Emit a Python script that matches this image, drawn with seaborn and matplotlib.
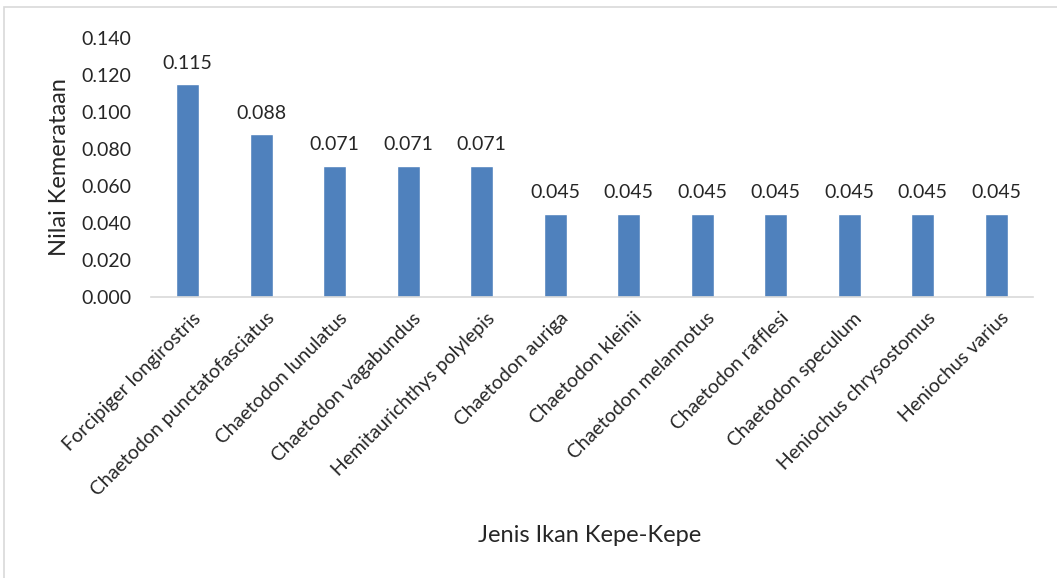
import matplotlib
matplotlib.use("Agg")
import matplotlib.pyplot as plt
import matplotlib.transforms as mtransforms
import seaborn as sns
import pandas as pd
from matplotlib.patches import Rectangle

# data
jenis = ['Forcipiger longirostris', 'Chaetodon punctatofasciatus', 'Chaetodon lunulatus',
         'Chaetodon vagabundus', 'Hemitaurichthys polylepis', 'Chaetodon auriga',
         'Chaetodon kleinii', 'Chaetodon melannotus', 'Chaetodon rafflesi',
         'Chaetodon speculum', 'Heniochus chrysostomus', 'Heniochus varius']
nilai = [0.115, 0.088, 0.071, 0.071, 0.071, 0.045, 0.045, 0.045, 0.045, 0.045, 0.045, 0.045]
yticks = [0.0, 0.02, 0.04, 0.06, 0.08, 0.10, 0.12, 0.14]

df = pd.DataFrame({'Jenis': jenis, 'Nilai': nilai})

sns.set_style('white')
plt.rcParams['font.family'] = ['Lato', 'DejaVu Sans']

fig = plt.figure(figsize=(10.57, 5.78), dpi=100)
ax = fig.add_axes([0.1429, 0.4862, 0.8344, 0.4481])

sns.barplot(data=df, x='Jenis', y='Nilai', color='#4F81BD', width=0.31,
            saturation=1, ax=ax)

ax.set_ylim(0, 0.14)
ax.set_yticks(yticks)
ax.set_yticklabels(['%.3f' % v for v in yticks], fontsize=14)
ax.set_xlim(-0.5, len(jenis) - 0.5)
ax.set_xticks(range(len(jenis)))
ax.set_xticklabels(jenis, rotation=45, ha='right', rotation_mode='anchor', fontsize=14)
ax.tick_params(axis='both', length=0)
ax.tick_params(axis='x', pad=9)
ax.tick_params(axis='y', pad=14)

# nudge rotated labels a bit to the right, like excel does
shift = mtransforms.ScaledTranslation(3 / 72, 0, fig.dpi_scale_trans)
for lab in ax.get_xticklabels():
    lab.set_transform(lab.get_transform() + shift)

for s in ['top', 'right', 'left']:
    ax.spines[s].set_visible(False)
ax.spines['bottom'].set_color('#D9D9D9')
ax.spines['bottom'].set_linewidth(1.2)

ax.bar_label(ax.containers[0], labels=['%.3f' % v for v in nilai], padding=9, fontsize=14)

ax.set_ylabel('Nilai Kemerataan', fontsize=17, labelpad=8)
ax.set_xlabel('')
fig.text(0.558, 0.073, 'Jenis Ikan Kepe-Kepe', ha='center', va='center', fontsize=17)

# outer frame of the chart box
fig.patches.append(Rectangle((0.0035, -0.05), 1.1, 1.038, transform=fig.transFigure,
                             fill=False, edgecolor='#D9D9D9', linewidth=1.2))

fig.savefig('out.png', dpi=100)
